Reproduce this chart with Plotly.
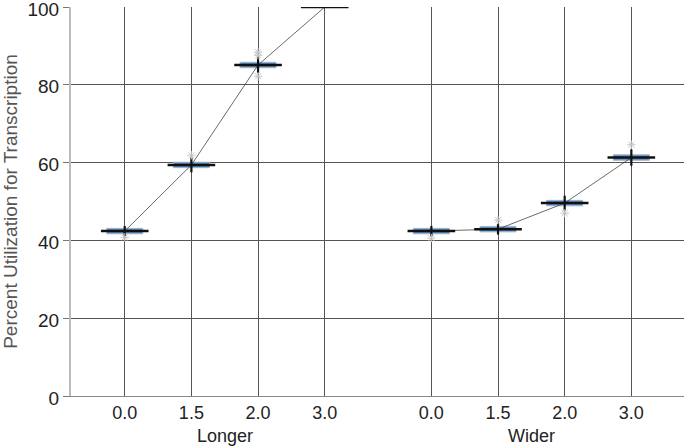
import plotly.graph_objects as go

groups = ["Longer", "Wider"]
tick_labels = ["0.0", "1.5", "2.0", "3.0"]

longer_median = [42.4, 59.4, 85.1, 100.0]
wider_median = [42.4, 42.9, 49.6, 61.3]

longer_q1 = [41.7, 58.7, 84.4, 99.9]
longer_q3 = [43.1, 60.1, 85.8, 100.0]
longer_lo = [41.1, 57.5, 83.0, 99.9]
longer_hi = [43.7, 61.3, 87.1, 100.0]

wider_q1 = [41.7, 42.2, 48.9, 60.6]
wider_q3 = [43.1, 43.6, 50.3, 62.0]
wider_lo = [41.1, 41.5, 47.7, 59.2]
wider_hi = [43.7, 44.3, 51.5, 63.4]

longer_outlier_idx = [0, 1, 2, 2, 2]
longer_outlier_val = [40.8, 61.9, 88.4, 87.6, 82.2]
wider_outlier_idx = [0, 1, 2, 3]
wider_outlier_val = [40.6, 45.2, 47.0, 64.6]

pos_longer = [0, 1, 2, 3]
pos_wider = [4.6, 5.6, 6.6, 7.6]

FONT = "Liberation Sans, Arial, sans-serif"

fig = go.Figure()

for pos, med, q1, q3, lo, hi in [
    (pos_longer, longer_median, longer_q1, longer_q3, longer_lo, longer_hi),
    (pos_wider, wider_median, wider_q1, wider_q3, wider_lo, wider_hi),
]:
    fig.add_trace(go.Scatter(x=pos, y=med, mode="lines",
                             line=dict(color="#444444", width=0.8),
                             hoverinfo="skip", showlegend=False))
    fig.add_trace(go.Box(x=pos, q1=q1, median=med, q3=q3,
                         lowerfence=q1, upperfence=q3,
                         width=0.54, whiskerwidth=0,
                         fillcolor="#5b8bbf",
                         line=dict(color="#a3b6ca", width=1),
                         boxpoints=False, showlegend=False, hoverinfo="skip"))
    fig.add_trace(go.Scatter(
        x=pos, y=med, mode="markers",
        marker=dict(symbol="line-ew", size=34, color="#111111",
                    line=dict(color="#111111", width=2.5)),
        error_y=dict(type="data", symmetric=False,
                     array=[h - m for h, m in zip(hi, med)],
                     arrayminus=[m - l for m, l in zip(med, lo)],
                     color="#111111", thickness=2.2, width=0),
        showlegend=False, hoverinfo="skip"))

fig.add_trace(go.Scatter(
    x=[pos_longer[i] for i in longer_outlier_idx] + [pos_wider[i] for i in wider_outlier_idx],
    y=longer_outlier_val + wider_outlier_val,
    mode="markers",
    marker=dict(symbol="asterisk-open", size=7, color="#c4c4c4",
                line=dict(color="#c4c4c4", width=1)),
    showlegend=False, hoverinfo="skip"))

fig.update_layout(
    width=685, height=448,
    margin=dict(l=71, r=1, t=7, b=52),
    paper_bgcolor="white", plot_bgcolor="white",
    font=dict(family=FONT, size=18, color="#222222"),
    xaxis=dict(range=[-0.806, 8.39], tickmode="array",
               tickvals=pos_longer + pos_wider,
               ticktext=tick_labels + tick_labels,
               showgrid=True, gridcolor="#555555", gridwidth=1,
               zeroline=False, showline=True, linecolor="#888888", linewidth=1,
               ticks="", automargin=False,
               tickfont=dict(size=18, color="#222222")),
    yaxis=dict(range=[0, 100.01], tickmode="array", tickvals=[0, 20, 40, 60, 80, 100],
               showgrid=True, gridcolor="#555555", gridwidth=1,
               zeroline=False, showline=True, linecolor="#bbbbbb", linewidth=2,
               ticks="outside", ticklen=6, tickcolor="#777777", automargin=False,
               ticklabeloverflow="allow", ticklabelshift=2,
               tickfont=dict(size=19, color="#222222"),
               title=dict(text="Percent Utilization for Transcription",
                          font=dict(size=19, color="#555555"), standoff=10)),
    annotations=[
        dict(x=1.5, y=0, xref="x", yref="paper", text=groups[0], showarrow=False,
             yanchor="middle", yshift=-40, font=dict(size=18, color="#222222")),
        dict(x=6.1, y=0, xref="x", yref="paper", text=groups[1], showarrow=False,
             yanchor="middle", yshift=-40, font=dict(size=18, color="#222222")),
    ],
)

fig.write_html("out.html", config={"displayModeBar": False},
               post_script="document.body.style.margin='0';document.body.style.overflow='hidden';")
